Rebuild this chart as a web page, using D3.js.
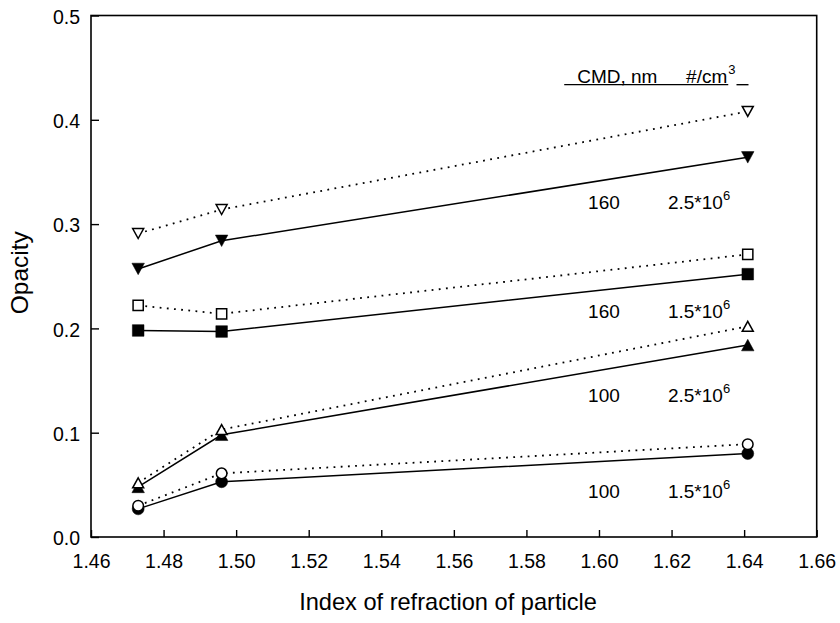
<!DOCTYPE html>
<html>
<head>
<meta charset="utf-8">
<script src="https://cdn.jsdelivr.net/npm/d3@7"></script>
<style>
  body { margin: 0; background: #fff; }
  svg text { font-family: "Liberation Sans", Arial, sans-serif; fill: #000; }
</style>
</head>
<body>
<svg width="840" height="623"></svg>
<script>
// data
const xValues = [1.473, 1.496, 1.641];

const downOpen = [0.291, 0.314, 0.408];
const downFilled = [0.257, 0.284, 0.364];
const squareOpen = [0.222, 0.214, 0.271];
const squareFilled = [0.198, 0.197, 0.252];
const upOpen = [0.052, 0.103, 0.202];
const upFilled = [0.048, 0.098, 0.184];
const circleOpen = [0.030, 0.061, 0.089];
const circleFilled = [0.027, 0.053, 0.080];

const xTicks = [1.46, 1.48, 1.50, 1.52, 1.54, 1.56, 1.58, 1.60, 1.62, 1.64, 1.66];
const yTicks = [0.0, 0.1, 0.2, 0.3, 0.4, 0.5];

// annotation text: CMD, number concentration, where it sits (opacity units)
const noteCMD = ['160', '160', '100', '100'];
const noteConc = ['2.5', '1.5', '2.5', '1.5'];
const noteY = [0.314, 0.2097, 0.1297, 0.0371];
const noteX = [1.597, 1.619];
const headerY = 0.4356;

const svg = d3.select('svg');

const x = d3.scaleLinear().domain([1.46, 1.66]).range([91, 816.7]);
const y = d3.scaleLinear().domain([0, 0.5]).range([537, 15.5]);

// frame
svg.append('rect')
  .attr('x', x(1.46)).attr('y', y(0.5))
  .attr('width', x(1.66) - x(1.46)).attr('height', y(0) - y(0.5))
  .attr('fill', 'none').attr('stroke', '#000').attr('stroke-width', 1.6);

// axes, ticks point inward
let xAxis = svg.append('g')
  .attr('transform', `translate(0,${y(0)})`)
  .call(d3.axisBottom(x).tickValues(xTicks).tickFormat(d3.format('.2f'))
    .tickSize(-7).tickPadding(17));
let yAxis = svg.append('g')
  .attr('transform', `translate(${x(1.46)},0)`)
  .call(d3.axisLeft(y).tickValues(yTicks).tickFormat(d3.format('.1f'))
    .tickSize(-8).tickPadding(11));

[xAxis, yAxis].forEach((g) => {
  g.select('.domain').remove();
  g.selectAll('.tick line').attr('stroke', '#000').attr('stroke-width', 1.4);
  g.selectAll('.tick text').style('font-size', '19.5px').attr('fill', '#000');
});
yAxis.selectAll('.tick text').attr('dy', '0.4em');

// axis titles
svg.append('text')
  .attr('x', 448).attr('y', 610)
  .attr('text-anchor', 'middle')
  .style('font-size', '23.6px')
  .text('Index of refraction of particle');

svg.append('text')
  .attr('transform', 'translate(28,272.7) rotate(-90)')
  .attr('text-anchor', 'middle')
  .style('font-size', '24.5px')
  .text('Opacity');

// series
const series = [
  { values: downFilled, shape: 'down', filled: true },
  { values: squareFilled, shape: 'square', filled: true },
  { values: upFilled, shape: 'up', filled: true },
  { values: circleFilled, shape: 'circle', filled: true },
  { values: downOpen, shape: 'down', filled: false },
  { values: squareOpen, shape: 'square', filled: false },
  { values: upOpen, shape: 'up', filled: false },
  { values: circleOpen, shape: 'circle', filled: false },
];

function markerPath(shape, filled) {
  let s = filled ? 12.5 : 11;
  let h = filled ? 11.5 : 10;
  if (shape === 'up') return `M0,${-h / 2}L${s / 2},${h / 2}L${-s / 2},${h / 2}Z`;
  if (shape === 'down') return `M0,${h / 2}L${s / 2},${-h / 2}L${-s / 2},${-h / 2}Z`;
  if (shape === 'square') return d3.symbol(d3.symbolSquare, filled ? 135 : 104)();
  return d3.symbol(d3.symbolCircle, filled ? 113 : 88)();
}

let line = d3.line().x((d, i) => x(xValues[i])).y((d) => y(d));

// lines first, then filled markers, open markers on top
series.forEach((s) => {
  svg.append('path')
    .attr('d', line(s.values))
    .attr('fill', 'none')
    .attr('stroke', '#000')
    .attr('stroke-width', s.filled ? 1.5 : 1.8)
    .attr('stroke-dasharray', s.filled ? null : '1.8,5.4');
});

series.forEach((s) => {
  svg.append('g').selectAll('path')
    .data(s.values)
    .join('path')
    .attr('transform', (d, i) => `translate(${x(xValues[i])},${y(d)})`)
    .attr('d', markerPath(s.shape, s.filled))
    .attr('fill', s.filled ? '#000' : '#fff')
    .attr('stroke', '#000')
    .attr('stroke-width', s.filled ? 0.5 : 1.5);
});

// annotations
noteY.forEach((v, i) => {
  svg.append('text')
    .attr('x', x(noteX[0])).attr('y', y(v))
    .style('font-size', '19px')
    .text(noteCMD[i]);
  let t = svg.append('text')
    .attr('x', x(noteX[1])).attr('y', y(v))
    .style('font-size', '19px');
  t.append('tspan').text(noteConc[i] + '*10');
  t.append('tspan').attr('dy', -9).style('font-size', '13px').text('6');
});

// header with underline
let h1 = svg.append('text')
  .attr('x', x(1.594)).attr('y', y(headerY))
  .style('font-size', '19px')
  .text('CMD, nm');
let h2 = svg.append('text')
  .attr('x', x(1.624)).attr('y', y(headerY))
  .style('font-size', '19px')
  .text('#/cm');
let supX = x(1.624) + h2.node().getComputedTextLength() + 1;
let h3 = svg.append('text')
  .attr('x', supX).attr('y', y(headerY) - 9)
  .style('font-size', '13px')
  .text('3');
let supEnd = supX + h3.node().getComputedTextLength();
let ulY = y(headerY) + 2;
svg.append('line')
  .attr('x1', x(1.594) - 13).attr('x2', supX)
  .attr('y1', ulY).attr('y2', ulY)
  .attr('stroke', '#000').attr('stroke-width', 1.4);
svg.append('line')
  .attr('x1', supEnd + 1).attr('x2', supEnd + 13)
  .attr('y1', ulY).attr('y2', ulY)
  .attr('stroke', '#000').attr('stroke-width', 1.4);
</script>
</body>
</html>
